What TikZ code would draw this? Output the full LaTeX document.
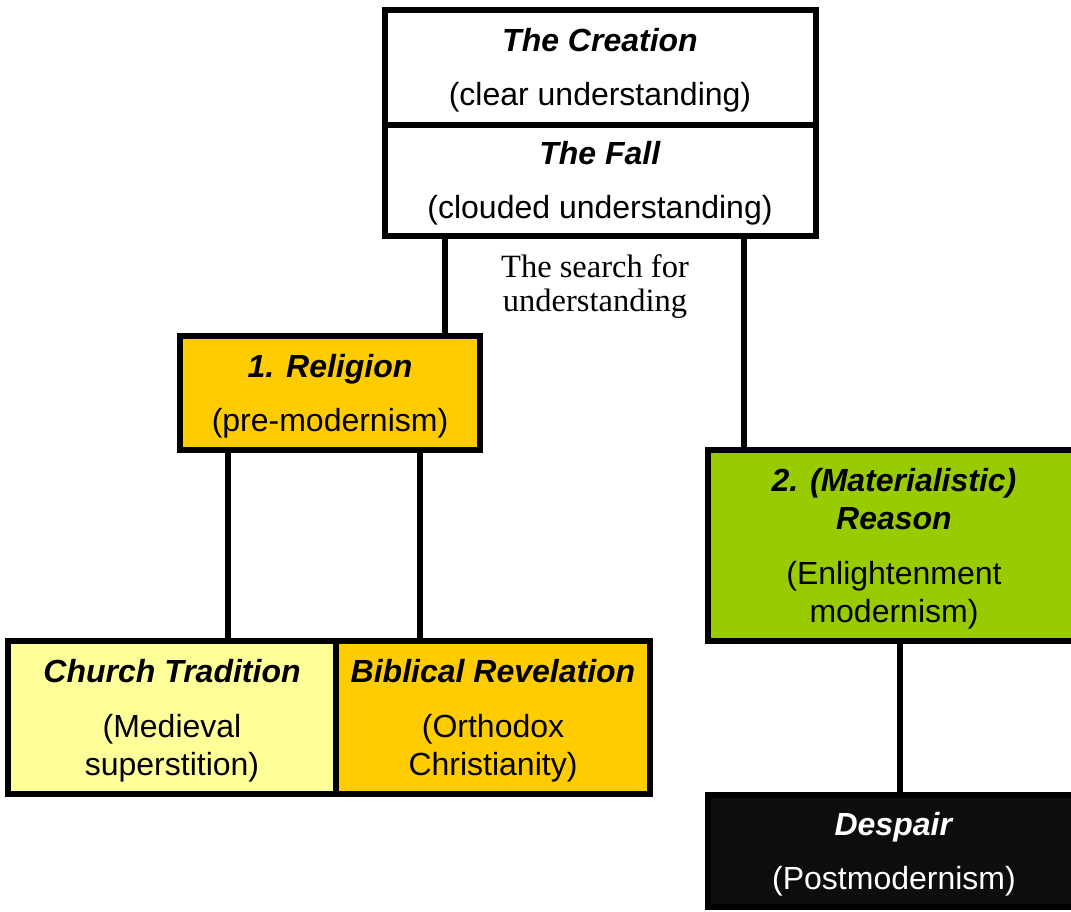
\documentclass[tikz,border=0pt]{standalone}
\usepackage{fontspec}
\setmainfont{Liberation Sans}
\newfontfamily\searchfont{Liberation Serif}
\definecolor{relorange}{HTML}{FFCC00}
\definecolor{churchyellow}{HTML}{FFFF99}
\definecolor{reasongreen}{HTML}{99CC00}
\definecolor{despairblack}{HTML}{0D0D0D}
\begin{document}
\begin{tikzpicture}[x=1pt,y=-1pt,
	box/.style={draw,line width=6pt,outer sep=0pt,inner sep=0pt,align=center,text depth=0pt,
		font=\fontsize{32}{38}\selectfont},
	link/.style={line width=6pt}]
	\clip (0,0) rectangle (1071,911);

	\node[box,fill=white,minimum width=431,minimum height=115] (creation) at (600,67)
		{\textbf{\textit{The Creation}}\\[16pt](clear understanding)};
	\node[box,fill=white,minimum width=431,minimum height=111.5] (fall) at (600,180.25)
		{\textbf{\textit{The Fall}}\\[16pt](clouded understanding)};

	\node[font=\searchfont\fontsize{32.5}{34}\selectfont,align=center] (search) at (595,287)
		{The search for\\understanding};

	\node[box,fill=relorange,minimum width=300,minimum height=114] (religion) at (330,392.5)
		{\textbf{\textit{1. Religion}}\\[16pt](pre-modernism)};
	\node[box,fill=churchyellow,minimum width=328,minimum height=153.5] (church) at (172,717.25)
		{\textbf{\textit{Church Tradition}}\\[17pt](Medieval\\superstition)};
	\node[box,fill=relorange,minimum width=314,minimum height=153.5] (biblical) at (493,717.25)
		{\textbf{\textit{Biblical Revelation}}\\[17pt](Orthodox\\Christianity)};

	\node[box,fill=reasongreen,minimum width=372,minimum height=190.5] (reason) at (894,545.25)
		{\textbf{\textit{2. (Materialistic)}}\\\textbf{\textit{Reason}}\\[17pt](Enlightenment\\modernism)};
	\node[box,fill=despairblack,text=white,minimum width=372,minimum height=112] (despair) at (894,851)
		{\textbf{\textit{Despair}}\\[16pt](Postmodernism)};

	\draw[link] ([xshift=60]fall.south west) -- ([xshift=60]fall.south west |- religion.north);
	\draw[link] ([xshift=359]fall.south west) -- ([xshift=359]fall.south west |- reason.north);
	\draw[link] ([xshift=47.5]religion.south west) -- ([xshift=47.5]religion.south west |- church.north);
	\draw[link] ([xshift=239.5]religion.south west) -- ([xshift=239.5]religion.south west |- biblical.north);
	\draw[link] ([xshift=6]reason.south) -- ([xshift=6]despair.north);
\end{tikzpicture}
\end{document}
